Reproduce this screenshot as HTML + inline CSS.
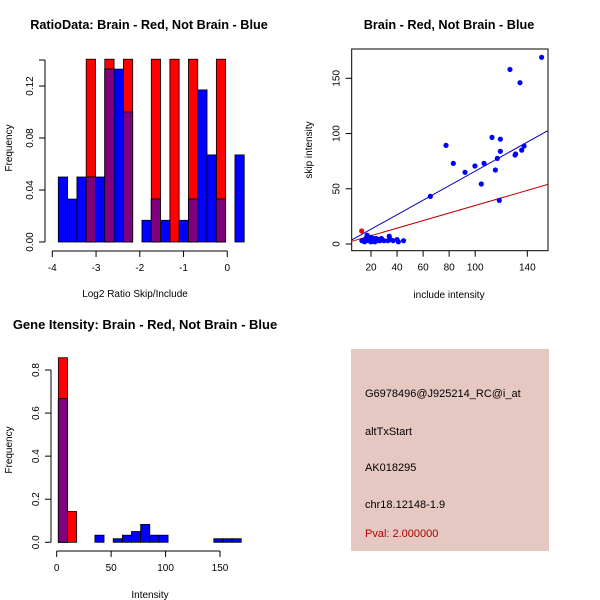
<!DOCTYPE html>
<html><head><meta charset="utf-8"><style>
html,body{margin:0;padding:0;background:#fff;}
svg{display:block;font-family:"Liberation Sans",sans-serif;}
</style></head><body>
<svg id="chart" width="600" height="600" viewBox="0 0 600 600" xmlns="http://www.w3.org/2000/svg">
<g id="p1"></g>
<g id="p2"></g>
<g id="p3"></g>
<g>
<rect x="351" y="349" width="198" height="202" fill="#e5c8c2"/>
<text x="365" y="397" font-size="11">G6978496@J925214_RC@i_at</text>
<text x="365" y="435" font-size="11">altTxStart</text>
<text x="365" y="471" font-size="11">AK018295</text>
<text x="365" y="508" font-size="11">chr18.12148-1.9</text>
<text x="365" y="537" font-size="11" fill="#b00000">Pval: 2.000000</text>
</g>
</svg>
<script>
// ---- Plot 1 data ----
const ratioBinStart = -3.863;
const ratioBinWidth = 0.2125;
const ratioBlue = [0.05,0.033,0.05,0.05,0.05,0.133,0.133,0.1,0,0.0167,0.033,0.0167,0,0.0167,0.033,0.117,0.067,0.033,0,0.067];
const ratioRed  = [0,0,0,0.1406,0,0.1406,0,0.1406,0,0,0.1406,0,0.1406,0,0.1406,0,0,0.1406,0,0];
const ratioXTicks = [-4,-3,-2,-1,0];
const ratioYTicks = [0,0.04,0.08,0.12,0.14];
const ratioYLabels = ["0.00","0.04","0.08","0.12",""];
// ---- Plot 2 data ----
const blueX = [151,126.7,134.4,112.9,119.3,77.6,119.3,137.5,135.7,130.6,131,117,83.2,106.8,99.8,92.2,115.5,104.7,65.6,118.5,13,15,16,17,18,19,20,20,21,22,23,24,25,26,27,28,30,33,34,35,37,40,41,45,18,22];
const blueY = [169,158,146,96.5,94.9,89.3,83.9,88.7,85,80.5,81.5,77.5,73,73,70.6,64.9,67,54.3,43.1,39.5,3,2,5,8,3,4,2,6,3,4,2,5,3,4,3,5,3,3,7,4,3,4,2,3,6,5];
const redX = [12.8];
const redY = [11.8];
const blueFit = [0.25,0.657];
const redFit = [0.65,0.342];
const scatXTicks = [20,40,60,80,100,140];
const scatXLabels = ["20","40","60","80","100","140"];
const scatYTicks = [0,50,100,150];
// ---- Plot 3 data ----
const intBinStart = 1.5;
const intBinWidth = 8.4;
const intBlue = [0.667,0,0,0,0.033,0,0.0167,0.033,0.05,0.083,0.033,0.033,0,0,0,0,0,0.0167,0.0167,0.0167];
const intRed  = [0.857,0.143,0,0,0,0,0,0,0,0,0,0,0,0,0,0,0,0,0,0];
const intXTicks = [0,50,100,150];
const intYTicks = [0,0.2,0.4,0.6,0.8];

const NS="http://www.w3.org/2000/svg";
function mk(parent,tag,attrs,txt){const e=document.createElementNS(NS,tag);for(const k in attrs)e.setAttribute(k,attrs[k]);if(txt!==undefined)e.textContent=txt;parent.appendChild(e);return e;}
function lin(d0,d1,p0,p1){return v=>p0+(v-d0)*(p1-p0)/(d1-d0);}

function xAxis(g,sx,ticks,labels,y,name){
  const a=mk(g,'line',{x1:sx(ticks[0]),x2:sx(ticks[ticks.length-1]),y1:y,y2:y,stroke:'#000'});
  
  
  ticks.forEach((t,i)=>{
    const l=mk(g,'line',{x1:sx(t),x2:sx(t),y1:y,y2:y+6,stroke:'#000'});
    
    
    const tx=mk(g,'text',{x:sx(t),y:y+20,'font-size':10,'text-anchor':'middle'},labels[i]);
    
    
  });
}
function yAxis(g,sy,ticks,labels,x,name){
  const a=mk(g,'line',{x1:x,x2:x,y1:sy(ticks[0]),y2:sy(ticks[ticks.length-1]),stroke:'#000'});
  
  
  ticks.forEach((t,i)=>{
    const l=mk(g,'line',{x1:x-6,x2:x,y1:sy(t),y2:sy(t),stroke:'#000'});
    
    
    const tx=mk(g,'text',{x:x-12,y:sy(t),'font-size':10,'text-anchor':'middle',transform:`rotate(-90 ${x-12} ${sy(t)})`},labels[i]);
    
    
  });
}
function label(g,x,y,txt,name,rot,opts){
  const t=mk(g,'text',Object.assign({x:x,y:y,'font-size':10,'text-anchor':'middle'},rot?{transform:`rotate(-90 ${x} ${y})`}:{},opts||{}),txt);
  
  
}
function hist(g,sx,sy,start,w,red,blue,name){
  const bars=[];
  red.forEach((v,i)=>{ if(v>0) bars.push([i,v,'#ff0000','red']); });
  blue.forEach((v,i)=>{ if(v>0) bars.push([i,v,'#0000ff','blue']); });
  red.forEach((v,i)=>{ if(v>0&&blue[i]>0) bars.push([i,Math.min(v,blue[i]),'#7f007f','overlap']); });
  bars.forEach(b=>{
    const x0=sx(start+b[0]*w),x1=sx(start+(b[0]+1)*w);
    const r=mk(g,'rect',{x:x0,y:sy(b[1]),width:x1-x0,height:sy(0)-sy(b[1]),fill:b[2],stroke:'#000','stroke-width':0.8});
    
    
  });
}

// Plot 1
(function(){
  const g=document.getElementById('p1');
  const sx=lin(-4,0,52.3,227.3), sy=lin(0,0.12,242,86);
  hist(g,sx,sy,ratioBinStart,ratioBinWidth,ratioRed,ratioBlue,'ratio');
  xAxis(g,sx,ratioXTicks,ratioXTicks.map(String),251,'ratio');
  yAxis(g,sy,ratioYTicks,ratioYLabels,45,'ratio');
  label(g,149,29,'RatioData: Brain - Red, Not Brain - Blue','ratio-title',false,{'font-size':12.7,'font-weight':'bold'});
  label(g,135,297,'Log2 Ratio Skip/Include','ratio-x-title');
  label(g,12,148,'Frequency','ratio-y-title',true);
})();

// Plot 2
(function(){
  const g=document.getElementById('p2');
  const sx=lin(20,140,371,527.3), sy=lin(0,150,244,78.3);
  const L=351.7,R=548,T=49,B=250.7;
  const box=mk(g,'rect',{x:L,y:T,width:R-L,height:B-T,fill:'none',stroke:'#000'});
  
  
  const cp=mk(g,'clipPath',{id:'c2'}); mk(cp,'rect',{x:L,y:T,width:R-L,height:B-T});
  const xAt=p=>(p-sx(0))/(sx(1)-sx(0));
  [[blueFit,'#0000c0','blue-fit-line'],[redFit,'#c00000','red-fit-line']].forEach(f=>{
    const ln=mk(g,'line',{x1:L,y1:sy(f[0][0]+f[0][1]*xAt(L)),x2:R,y2:sy(f[0][0]+f[0][1]*xAt(R)),stroke:f[1],'clip-path':'url(#c2)'});
    
    
  });
  blueX.forEach((x,i)=>{
    const c=mk(g,'circle',{cx:sx(x),cy:sy(blueY[i]),r:2.6,fill:'#0000ff'});
    
    
  });
  redX.forEach((x,i)=>{
    const c=mk(g,'circle',{cx:sx(x),cy:sy(redY[i]),r:2.6,fill:'#ff0000'});
    
    
  });
  scatXTicks.forEach((t,i)=>{
    const l=mk(g,'line',{x1:sx(t),x2:sx(t),y1:B,y2:B+6,stroke:'#000'});
    
    
    const tx=mk(g,'text',{x:sx(t),y:B+20,'font-size':10,'text-anchor':'middle'},scatXLabels[i]);
    
    
  });
  scatYTicks.forEach(t=>{
    const l=mk(g,'line',{x1:L-6,x2:L,y1:sy(t),y2:sy(t),stroke:'#000'});
    
    
    const tx=mk(g,'text',{x:L-12,y:sy(t),'font-size':10,'text-anchor':'middle',transform:`rotate(-90 ${L-12} ${sy(t)})`},String(t));
    
    
  });
  label(g,449,29,'Brain - Red, Not Brain - Blue','scatter-title',false,{'font-size':12.7,'font-weight':'bold'});
  label(g,449,298,'include intensity','scatter-x-title');
  label(g,312,150,'skip intensity','scatter-y-title',true);
})();

// Plot 3
(function(){
  const g=document.getElementById('p3');
  const sx=lin(0,150,56.7,220), sy=lin(0,0.8,542.3,370);
  hist(g,sx,sy,intBinStart,intBinWidth,intRed,intBlue,'intensity');
  xAxis(g,sx,intXTicks,intXTicks.map(String),551,'intensity');
  yAxis(g,sy,intYTicks,intYTicks.map(v=>v.toFixed(1)),51,'intensity');
  label(g,145,329,'Gene Itensity: Brain - Red, Not Brain - Blue','intensity-title',false,{'font-size':13,'font-weight':'bold'});
  label(g,150,598,'Intensity','intensity-x-title');
  label(g,12,450,'Frequency','intensity-y-title',true);
})();
</script>
</body></html>
